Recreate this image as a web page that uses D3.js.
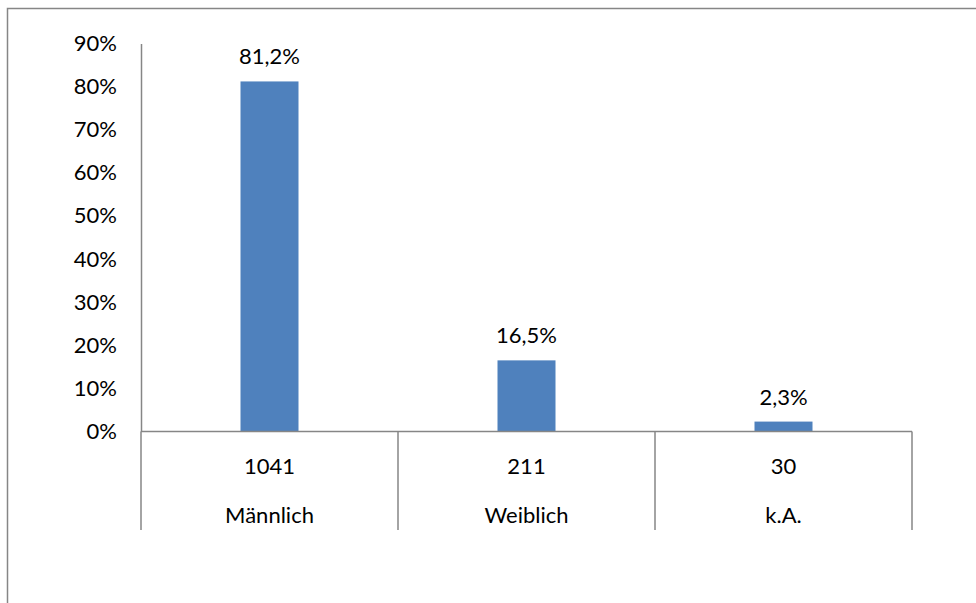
<!DOCTYPE html>
<html><head><meta charset="utf-8">
<script src="https://cdn.jsdelivr.net/npm/d3@7"></script>
<style>body{margin:0;background:#fff}svg{display:block}text{font-family:Lato,"Open Sans",sans-serif;fill:#000}</style>
</head><body><svg id="c" width="976" height="603"></svg>
<script>
const categories = ["Männlich", "Weiblich", "k.A."];
const counts = ["1041", "211", "30"];
const values = [81.2, 16.5, 2.3];
const valueLabels = ["81,2%", "16,5%", "2,3%"];
const yTicks = [0, 10, 20, 30, 40, 50, 60, 70, 80, 90];

const svg = d3.select("#c");
const axisColor = "#868686";
const fs = 22;
svg.append("rect").attr("x", 7.5).attr("y", 8.5).attr("width", 1000).attr("height", 1000)
  .attr("fill", "none").attr("stroke", axisColor).attr("stroke-width", 1.5);

const x = d3.scaleBand().domain(categories).range([141, 912]).paddingInner(0).paddingOuter(0);
const y = d3.scaleLinear().domain([0, 90]).range([431.5, 43.5]);
const barW = 58;

// bars
svg.selectAll("rect.bar").data(values).join("rect").attr("class", "bar")
  .attr("x", (d, i) => x(categories[i]) + x.bandwidth() / 2 - barW / 2)
  .attr("y", d => y(d)).attr("width", barW).attr("height", d => y(0) - y(d))
  .attr("fill", "#4F81BD");

// y axis
const yAxis = d3.axisLeft(y).tickValues(yTicks).tickFormat(d => d + "%").tickSize(0).tickPadding(24);
const ga = svg.append("g").attr("transform", "translate(141,0)").call(yAxis);
ga.select(".domain").attr("stroke", axisColor).attr("stroke-width", 1.5);
ga.selectAll("text").attr("font-size", fs).attr("font-family", "Lato, 'Open Sans', sans-serif").attr("fill", "#000");

// x axis line
svg.append("line").attr("x1", 141).attr("x2", 912).attr("y1", y(0)).attr("y2", y(0))
  .attr("stroke", axisColor).attr("stroke-width", 1.5);
// dividers
const bounds = categories.map(c => x(c)).concat([x(categories[categories.length - 1]) + x.bandwidth()]);
svg.selectAll("line.div").data(bounds).join("line").attr("class", "div")
  .attr("x1", d => d).attr("x2", d => d).attr("y1", y(0)).attr("y2", 530)
  .attr("stroke", axisColor).attr("stroke-width", 1.5);

// category labels
svg.selectAll("text.cnt").data(counts).join("text").attr("class", "cnt")
  .attr("x", (d, i) => x(categories[i]) + x.bandwidth() / 2).attr("y", 474)
  .attr("text-anchor", "middle").attr("font-size", fs).text(d => d);
svg.selectAll("text.cat").data(categories).join("text").attr("class", "cat")
  .attr("x", d => x(d) + x.bandwidth() / 2).attr("y", 523)
  .attr("text-anchor", "middle").attr("font-size", fs).text(d => d);

// value labels
svg.selectAll("text.val").data(values).join("text").attr("class", "val")
  .attr("x", (d, i) => x(categories[i]) + x.bandwidth() / 2).attr("y", d => y(d) - 17)
  .attr("text-anchor", "middle").attr("font-size", fs).text((d, i) => valueLabels[i]);
</script></body></html>
